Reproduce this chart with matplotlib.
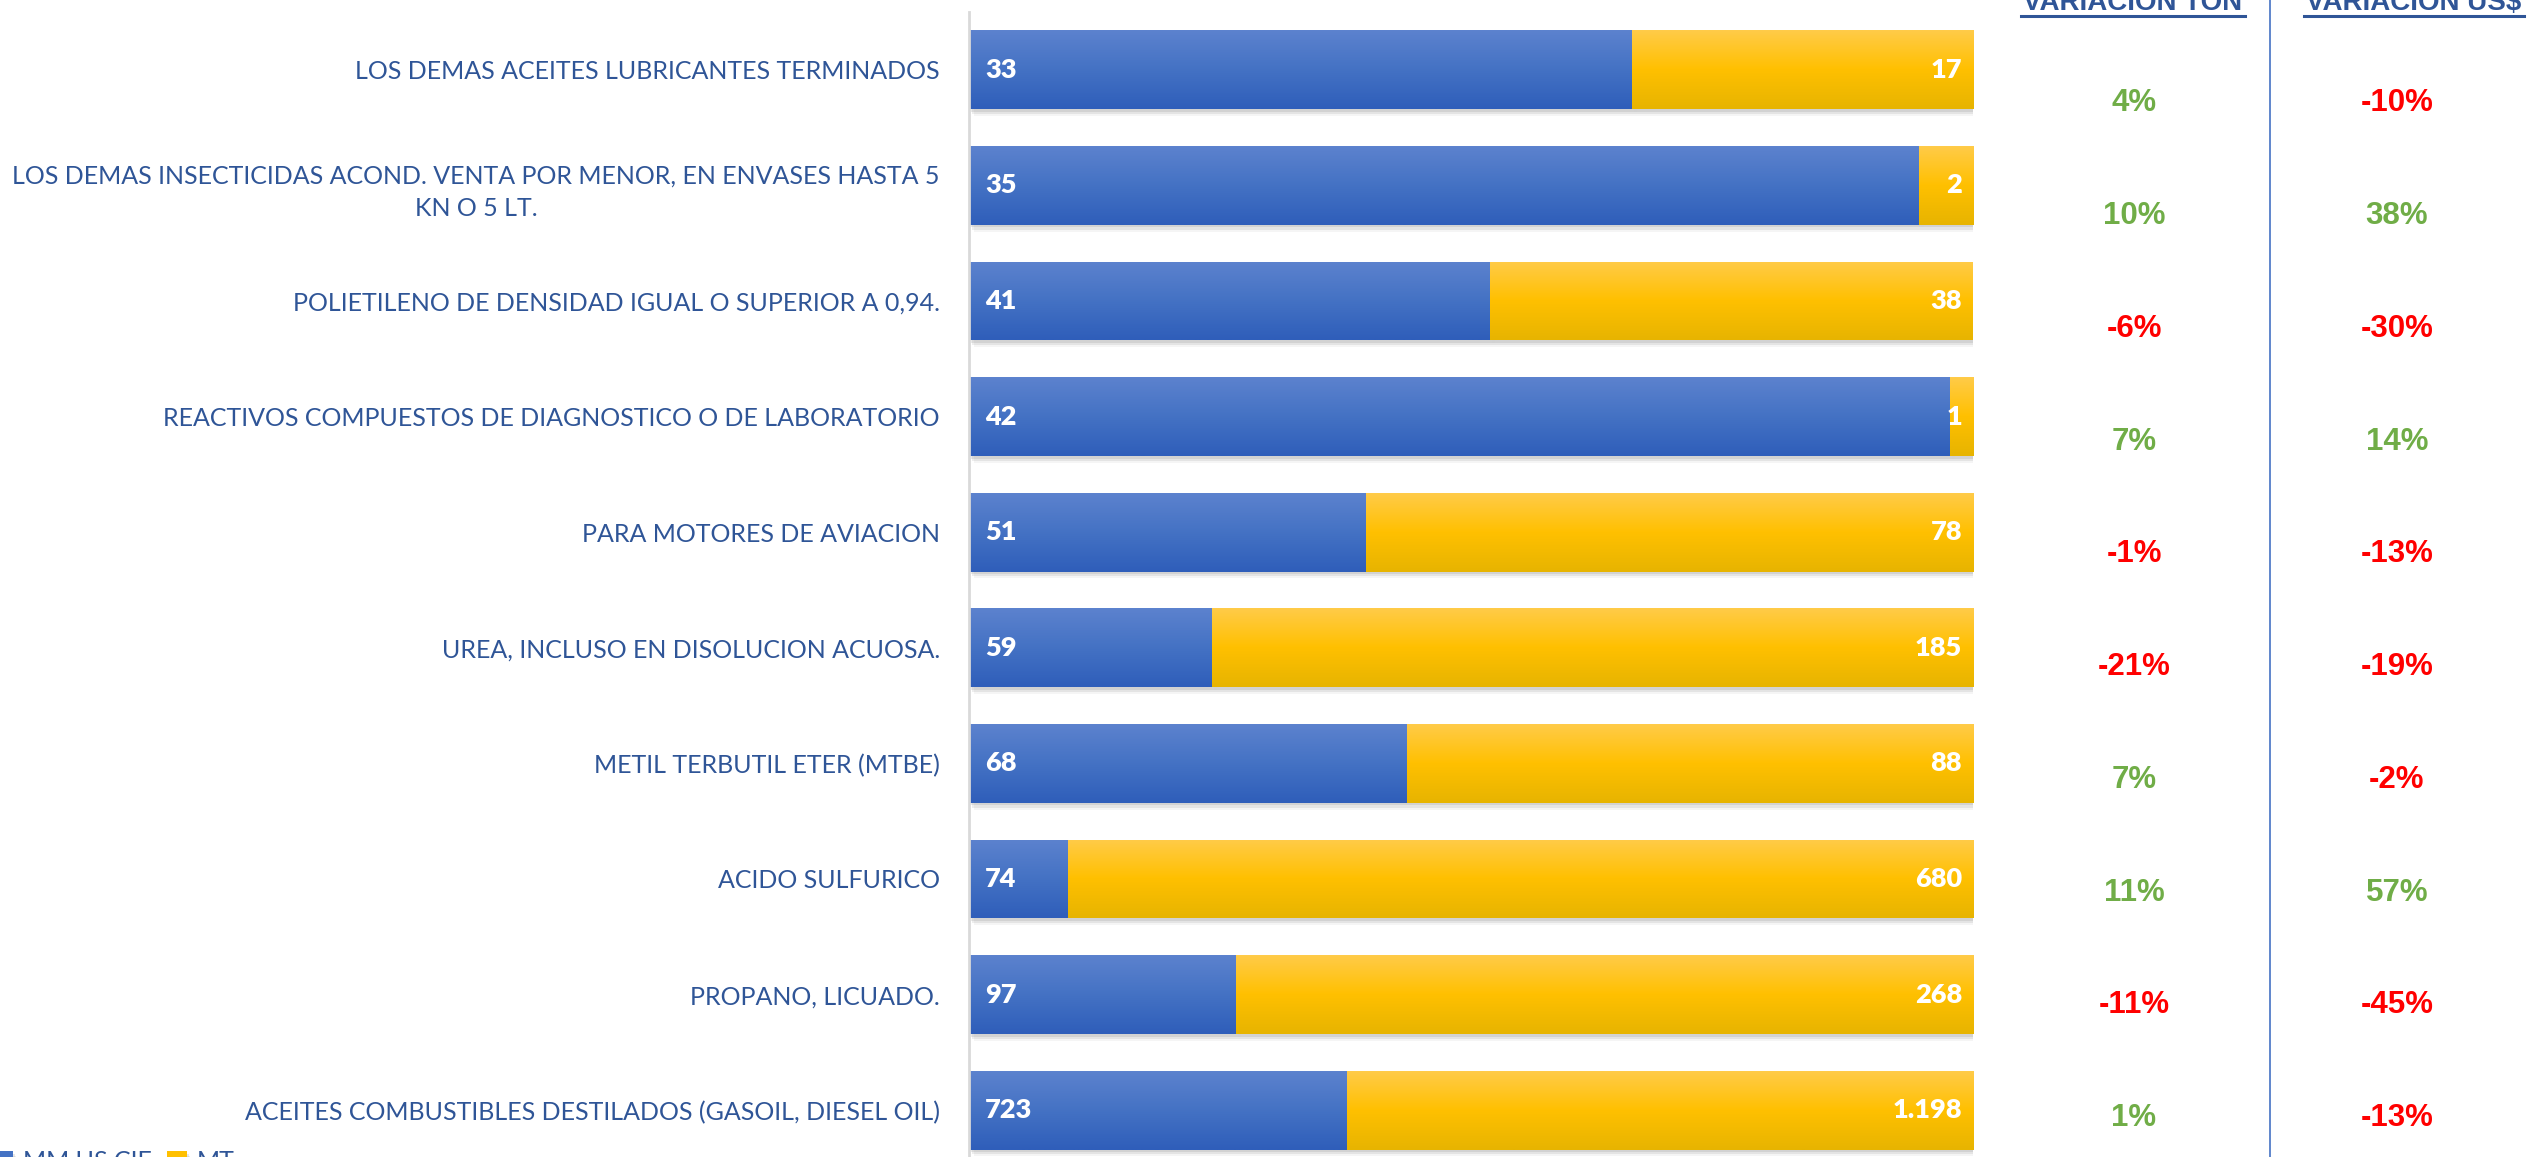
import numpy as np
import matplotlib.pyplot as plt
import matplotlib.patheffects as pe
from matplotlib.colors import LinearSegmentedColormap
from matplotlib.lines import Line2D

# data (top row first)
categories = [
    "LOS DEMAS ACEITES LUBRICANTES TERMINADOS",
    "LOS DEMAS INSECTICIDAS ACOND. VENTA POR MENOR, EN ENVASES HASTA 5\nKN O 5 LT.",
    "POLIETILENO DE DENSIDAD IGUAL O SUPERIOR A 0,94.",
    "REACTIVOS COMPUESTOS DE DIAGNOSTICO O DE LABORATORIO",
    "PARA MOTORES DE AVIACION",
    "UREA, INCLUSO EN DISOLUCION ACUOSA.",
    "METIL TERBUTIL ETER (MTBE)",
    "ACIDO SULFURICO",
    "PROPANO, LICUADO.",
    "ACEITES COMBUSTIBLES DESTILADOS (GASOIL, DIESEL OIL)",
]
mm_us_cif = [33, 35, 41, 42, 51, 59, 68, 74, 97, 723]
mt = [17, 2, 38, 1, 78, 185, 88, 680, 268, 1198]
var_ton = [4, 10, -6, 7, -1, -21, 7, 11, -11, 1]
var_usd = [-10, 38, -30, 14, -13, -19, -2, 57, -45, -13]

W, H = 2532, 1157
TXT = "#2F5597"
GREEN = "#70AD47"
RED = "#FF0000"

def fmt(v):
    return f"{v:,}".replace(",", ".")

usd = np.array(mm_us_cif, dtype=float)
ton = np.array(mt, dtype=float)
share_usd = usd / (usd + ton)
share_ton = ton / (usd + ton)
pos = np.arange(len(categories))

fig = plt.figure(figsize=(W / 100, H / 100), dpi=100)
ax = fig.add_axes([969 / W, 1 - 1168 / H, 1004 / W, 1156 / H])

# soft shadow under the bars
shadow = [pe.SimplePatchShadow(offset=(1.5, -2), shadow_rgbFace="#808080", alpha=0.18),
          pe.SimplePatchShadow(offset=(2.5, -3.5), shadow_rgbFace="#808080", alpha=0.14),
          pe.SimplePatchShadow(offset=(3.5, -5), shadow_rgbFace="#808080", alpha=0.08),
          pe.Normal()]
b1 = ax.barh(pos, share_usd, height=0.68, color="#4472C4", label="MM US CIF", path_effects=shadow)
b2 = ax.barh(pos, share_ton, left=share_usd, height=0.68, color="#FFC000", label="MT", path_effects=shadow)

# vertical gradient on each bar, clipped to the bar shape
grad = np.linspace(0, 1, 64).reshape(-1, 1)
for bars, cols in [(b1, ["#5C82CE", "#4472C4", "#2F5EBA"]), (b2, ["#FFCB48", "#FFC000", "#E7B400"])]:
    cmap = LinearSegmentedColormap.from_list("g", cols)
    for p in bars:
        x0, y0, w, h = p.get_x(), p.get_y(), p.get_width(), p.get_height()
        im = ax.imshow(grad, cmap=cmap, aspect="auto", extent=(x0, x0 + w, y0 + h, y0), zorder=p.get_zorder() + 0.1)
        im.set_clip_path(p)

for i in pos:
    ax.text(0.016, i, fmt(mm_us_cif[i]), ha="left", va="center", color="white",
            fontsize=19.5, fontweight="heavy", family="Lato", zorder=5)
    ax.text(0.989, i, fmt(mt[i]), ha="right", va="center", color="white",
            fontsize=19.5, fontweight="heavy", family="Lato", zorder=5)

ax.set_xlim(0, 1)
ax.set_ylim(len(categories) - 0.5, -0.5)
ax.set_xticks([])
ax.set_yticks(pos, labels=categories)
ax.tick_params(axis="y", length=0, pad=21, labelsize=18, labelcolor=TXT)
for lab in ax.get_yticklabels():
    lab.set_family("Lato")
    lab.set_multialignment("center")
    lab.set_linespacing(1.5)
for s in ["top", "right", "bottom"]:
    ax.spines[s].set_visible(False)
ax.spines["left"].set_color("#D9D9D9")
ax.spines["left"].set_linewidth(2)

# variation columns
ax2 = fig.add_axes([0, 1 - 1174.4 / H, 1, (1169.4 - 42.1) / H])
ax2.set_xlim(0, W)
ax2.set_ylim(len(categories) - 0.5, -0.5)
ax2.axis("off")
for i in pos:
    ax2.text(2134, i, f"{var_ton[i]}%", ha="center", va="center", fontsize=22.5, fontweight="bold",
             family="Liberation Sans", color=GREEN if var_ton[i] >= 0 else RED)
    ax2.text(2397, i, f"{var_usd[i]}%", ha="center", va="center", fontsize=22.5, fontweight="bold",
             family="Liberation Sans", color=GREEN if var_usd[i] >= 0 else RED)

for xc, title, x0, x1 in [(2133, "VARIACION TON", 2021, 2245), (2414, "VARIACION US$", 2304, 2524)]:
    fig.text(xc / W, 1 - 10 / H, title, ha="center", va="baseline", fontsize=20,
             fontweight="bold", family="Liberation Sans", color=TXT)
    fig.add_artist(Line2D([x0 / W, x1 / W], [1 - 16 / H, 1 - 16 / H], color=TXT, lw=2.2))

fig.add_artist(Line2D([2270 / W, 2270 / W], [0, 1], color="#4472C4", lw=1.2))

fig.legend(handles=[b1, b2], labels=["MM US CIF", "MT"], loc="upper left",
           bbox_to_anchor=(-7 / W, 1 - 1150 / H), ncol=2, frameon=False,
           handlelength=0.8, handleheight=0.8, handletextpad=0.4, columnspacing=0.6,
           borderpad=0, borderaxespad=0, labelcolor=TXT, prop={"family": "Lato", "size": 18})

fig.savefig("out.png", dpi=100)
